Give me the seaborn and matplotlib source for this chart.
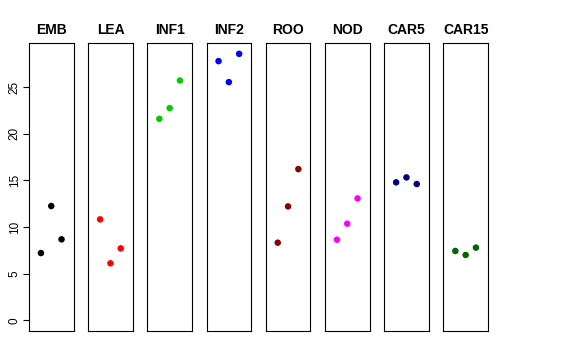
import pandas as pd
import numpy as np
import matplotlib
matplotlib.use("Agg")
import matplotlib.pyplot as plt
import seaborn as sns

groups = ["EMB", "LEA", "INF1", "INF2", "ROO", "NOD", "CAR5", "CAR15"]
emb = [7.21, 12.25, 8.68]
lea = [10.82, 6.11, 7.71]
inf1 = [21.6, 22.75, 25.71]
inf2 = [27.79, 25.54, 28.57]
roo = [8.32, 12.21, 16.21]
nod = [8.64, 10.36, 13.07]
car5 = [14.79, 15.32, 14.61]
car15 = [7.43, 7.0, 7.79]
colors = ["black", "red", "#00CD00", "blue", "#8B0000", "magenta", "#000080", "#006400"]

values = [emb, lea, inf1, inf2, roo, nod, car5, car15]
df = pd.DataFrame({
    "group": np.repeat(groups, 3),
    "rep": np.tile([1, 2, 3], len(groups)),
    "value": np.concatenate(values),
})

sns.set_style("white")
plt.rcParams["font.family"] = ["Liberation Sans", "DejaVu Sans"]
plt.rcParams["text.color"] = "black"
plt.rcParams["ytick.color"] = "black"
plt.rcParams["ytick.labelcolor"] = "black"

fig = plt.figure(figsize=(5.76, 3.6), dpi=100)
W, H = 576, 360
left0, pitch, pw = 29, 59.2, 44.5
top, bottom = 43.3, 331

for i, (g, col) in enumerate(zip(groups, colors)):
    ax = fig.add_axes([(left0 + i * pitch) / W, 1 - bottom / H, pw / W, (bottom - top) / H])
    sns.scatterplot(data=df[df.group == g], x="rep", y="value", color=col,
                    s=22, edgecolor="none", ax=ax)
    ax.set_xlim(-0.16, 4.16)
    ax.set_ylim(-1.15, 29.7)
    ax.set_xticks([])
    ax.set_xlabel("")
    ax.set_ylabel("")
    for sp in ax.spines.values():
        sp.set_visible(True)
        sp.set_color("black")
        sp.set_linewidth(0.8)
    ax.set_title(g, fontsize=10, fontweight="bold", pad=7, color="black")
    if i == 0:
        ax.set_yticks([0, 5, 10, 15, 20, 25])
        ax.tick_params(axis="y", direction="out", length=4, width=0.8, labelsize=8.5,
                       left=True, pad=2, colors="black")
        for lab in ax.get_yticklabels():
            lab.set_rotation(90)
            lab.set_va("center")
    else:
        ax.set_yticks([])

fig.savefig("out.png", dpi=100)
